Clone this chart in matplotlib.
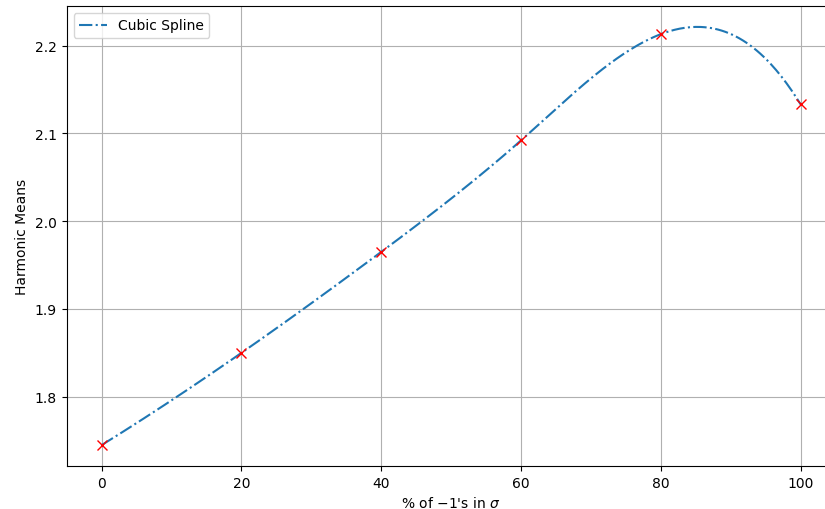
import numpy as np
import matplotlib
matplotlib.use("Agg")
import matplotlib.pyplot as plt

# data points
percent = np.array([0, 20, 40, 60, 80, 100], dtype=float)
harmonic_means = np.array([1.745, 1.850, 1.965, 2.092, 2.213, 2.133])


def not_a_knot_spline(x, y, xs):
    # cubic spline with not-a-knot ends (same as scipy CubicSpline default)
    n = len(x)
    h = np.diff(x)
    A = np.zeros((n, n))
    b = np.zeros(n)
    A[0, 0], A[0, 1], A[0, 2] = h[1], -(h[0] + h[1]), h[0]
    A[-1, -3], A[-1, -2], A[-1, -1] = h[-1], -(h[-2] + h[-1]), h[-2]
    for i in range(1, n - 1):
        A[i, i - 1] = h[i - 1]
        A[i, i] = 2 * (h[i - 1] + h[i])
        A[i, i + 1] = h[i]
        b[i] = 6 * ((y[i + 1] - y[i]) / h[i] - (y[i] - y[i - 1]) / h[i - 1])
    M = np.linalg.solve(A, b)
    idx = np.clip(np.searchsorted(x, xs) - 1, 0, n - 2)
    x0, x1 = x[idx], x[idx + 1]
    hh = x1 - x0
    t0, t1 = x1 - xs, xs - x0
    return (M[idx] * t0**3 / (6 * hh) + M[idx + 1] * t1**3 / (6 * hh)
            + (y[idx] / hh - M[idx] * hh / 6) * t0
            + (y[idx + 1] / hh - M[idx + 1] * hh / 6) * t1)


xs = np.linspace(percent[0], percent[-1], 400)
ys = not_a_knot_spline(percent, harmonic_means, xs)

fig = plt.figure(figsize=(8.25, 5.1), dpi=100)
ax = fig.add_axes([0.0808, 0.0843, 0.932, 0.902])
ax.plot(xs, ys, '-.', color='tab:blue', label='Cubic Spline')
ax.plot(percent, harmonic_means, 'x', color='red', markersize=7)
ax.set_xlabel("% of $-1$'s in $\\sigma$")
ax.set_ylabel('Harmonic Means')
ax.grid(True)
ax.legend(loc='upper left')
fig.savefig('out.png', dpi=100)
